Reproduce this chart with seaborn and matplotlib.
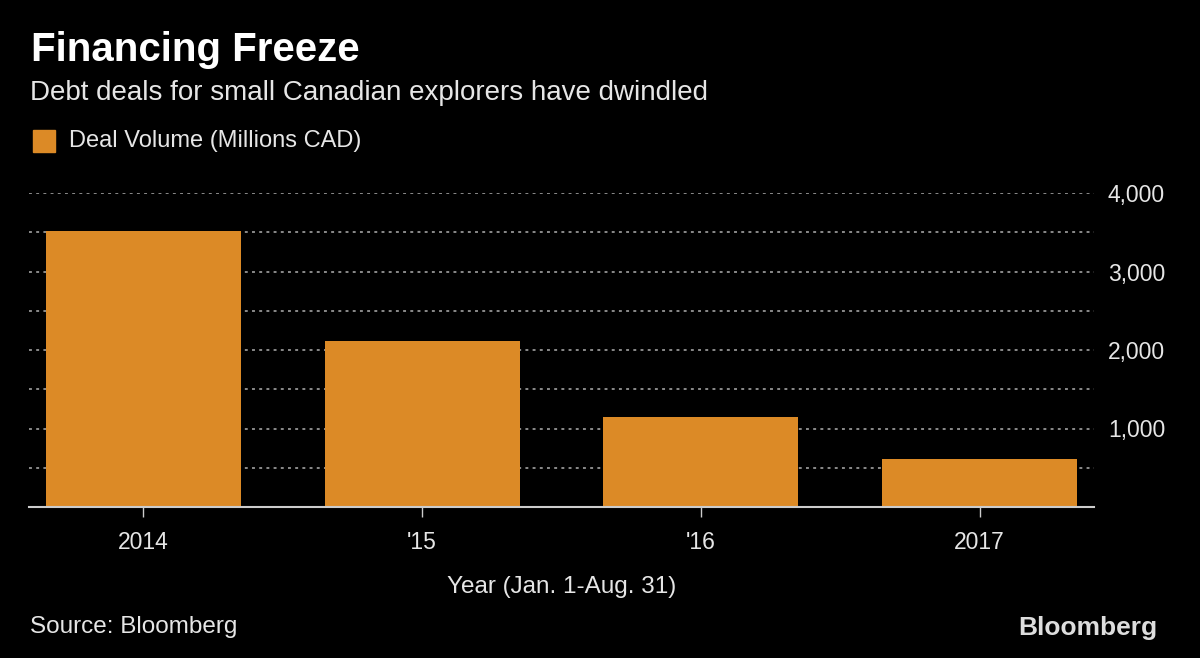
import matplotlib
matplotlib.use("Agg")
import matplotlib.pyplot as plt
import seaborn as sns
import pandas as pd
from matplotlib.ticker import MultipleLocator

years = ["2014", "'15", "'16", "2017"]
deal_volume = [3515, 2115, 1145, 607]
y_ticks = [1000, 2000, 3000, 4000]
y_tick_labels = ["1,000", "2,000", "3,000", "4,000"]

title = "Financing Freeze"
subtitle = "Debt deals for small Canadian explorers have dwindled"
legend_label = "Deal Volume (Millions CAD)"
x_label = "Year (Jan. 1-Aug. 31)"
source = "Source: Bloomberg"

BAR = "#DC8A26"
BG = "#000000"
TXT = "#E6E6E6"

sns.set_theme(style="dark")
plt.rcParams["font.family"] = ["Liberation Sans", "DejaVu Sans"]

df = pd.DataFrame({"year": years, "volume": deal_volume})

fig = plt.figure(figsize=(12, 6.58), dpi=100, facecolor=BG)
ax = fig.add_axes([29/1200, 1-507/658, (1094-29)/1200, (507-193)/658])
ax.set_facecolor(BG)

sns.barplot(data=df, x="year", y="volume", color=BAR, width=0.7,
            saturation=1, ax=ax, zorder=3, edgecolor="none")

ax.set_xlim(-0.41, 3.41)
ax.set_ylim(0, 4000)
ax.yaxis.tick_right()
ax.set_yticks(y_ticks)
ax.set_yticklabels(y_tick_labels)
ax.yaxis.set_minor_locator(MultipleLocator(500))
ax.grid(False)
ax.grid(axis="y", which="both", color="#8A8A8A", linestyle=(0, (1.5, 2.2)),
        linewidth=1.4, zorder=1)
ax.tick_params(axis="y", which="both", length=0, pad=10, labelsize=16.5,
               labelcolor=TXT)
ax.tick_params(axis="x", length=7, width=1, color="#CCCCCC", direction="out",
               labelsize=16.5, labelcolor=TXT, pad=10, bottom=True)
ax.set_xlabel(x_label, color=TXT, fontsize=17.5, labelpad=16)
ax.set_ylabel("")
for s in ["top", "left", "right"]:
    ax.spines[s].set_visible(False)
ax.spines["bottom"].set_color("#CCCCCC")
ax.spines["bottom"].set_linewidth(1.5)
ax.spines["bottom"].set_zorder(4)

fig.text(31/1200, 1-50/658, title, color="white", fontsize=29,
         fontweight="bold", va="center", ha="left")
fig.text(30/1200, 1-93/658, subtitle, color=TXT, fontsize=20,
         va="center", ha="left")
fig.patches.append(plt.Rectangle((33/1200, 1-152/658), 22/1200, 22/658,
                                 transform=fig.transFigure, color=BAR,
                                 figure=fig))
fig.text(69/1200, 1-141/658, legend_label, color=TXT, fontsize=17,
         va="center", ha="left")
fig.text(30/1200, 1-627/658, source, color=TXT, fontsize=17.5,
         va="center", ha="left")
fig.text(1157/1200, 1-628/658, "Bloomberg", color="#DDDDDD", fontsize=19,
         fontweight="bold", va="center", ha="right")

fig.savefig("out.png", dpi=100, facecolor=BG)
